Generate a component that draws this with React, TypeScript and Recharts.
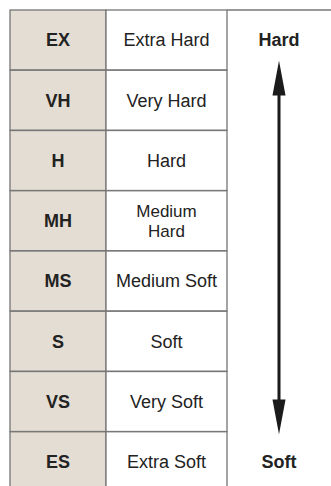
import { BarChart, Bar, XAxis, YAxis } from 'recharts'

// grade codes, top (hardest) to bottom (softest)
const codes = ['EX', 'VH', 'H', 'MH', 'MS', 'S', 'VS', 'ES']
const names = ['Extra Hard', 'Very Hard', 'Hard', 'Medium\nHard', 'Medium Soft', 'Soft', 'Very Soft', 'Extra Soft']
const scaleEnds = ['Hard', 'Soft']

const COL_CODE = 96
const COL_NAME = 121
const COL_SCALE = 104
const LINE = '#767676'
const BEIGE = '#e3ddd3'
const INK = '#222222'
const FONT = '"Liberation Sans", Arial, sans-serif'

const rows = codes.map((code, i) => ({
  code,
  name: names[i],
  codeCol: COL_CODE,
  nameCol: COL_NAME,
  scaleCol: COL_SCALE
}))

const CellText = ({ cx, cy, text, bold }: { cx: number; cy: number; text: string; bold?: boolean }) => {
  const lines = text.split('\n')
  // wrapped text gets a touch smaller so the two lines sit tight
  const size = lines.length > 1 ? 17 : 18
  const lh = 19.6
  return (
    <text
      x={cx}
      y={cy}
      textAnchor="middle"
      fontFamily={FONT}
      fontSize={size}
      fontWeight={bold ? 700 : 400}
      fill={INK}
    >
      {lines.map((l, i) => (
        <tspan key={i} x={cx} y={cy + (i - (lines.length - 1) / 2) * lh} dy="0.36em">
          {l}
        </tspan>
      ))}
    </text>
  )
}

const CodeCell = (props: any) => {
  const { x, y, width, height, payload } = props
  return (
    <g>
      <rect x={x} y={y} width={width} height={height} fill={BEIGE} stroke={LINE} strokeWidth={1.3} />
      <CellText cx={x + width / 2} cy={y + height / 2} text={payload.code} bold />
    </g>
  )
}

const NameCell = (props: any) => {
  const { x, y, width, height, payload } = props
  return (
    <g>
      <rect x={x} y={y} width={width} height={height} fill="#ffffff" stroke={LINE} strokeWidth={1.3} />
      <CellText cx={x + width / 2} cy={y + height / 2} text={payload.name} />
    </g>
  )
}

const ScaleCell = (props: any) => {
  const { x, y, width, height, index } = props
  const n = rows.length
  const cx = x + width / 2
  if (index === 0) {
    const top = y + height / 2 + 20.5
    const bottom = y + height * (n - 1) + height / 2 - 25.5
    const head = 35
    const hw = 6.5
    return (
      <g>
        <line x1={x} y1={y} x2={x + width} y2={y} stroke={LINE} strokeWidth={1.3} />
        <CellText cx={cx} cy={y + height / 2} text={scaleEnds[0]} bold />
        <rect x={cx - 1.5} y={top + head - 4} width={3} height={bottom - top - 2 * head + 8} fill="#1b1b1b" />
        <polygon points={`${cx},${top} ${cx + hw},${top + head} ${cx - hw},${top + head}`} fill="#1b1b1b" />
        <polygon points={`${cx},${bottom} ${cx + hw},${bottom - head} ${cx - hw},${bottom - head}`} fill="#1b1b1b" />
      </g>
    )
  }
  if (index === n - 1) {
    return <CellText cx={cx} cy={y + height / 2} text={scaleEnds[1]} bold />
  }
  return <g />
}

export default function App() {
  return (
    <div style={{ position: 'absolute', left: 0, top: 0, width: 331, height: 486, overflow: 'hidden', background: '#fff' }}>
      <BarChart
        width={331}
        height={500}
        data={rows}
        layout="vertical"
        margin={{ top: 10, right: 0, bottom: 8, left: 10 }}
        barCategoryGap={0}
      >
        <XAxis type="number" domain={[0, COL_CODE + COL_NAME + COL_SCALE]} hide />
        <YAxis type="category" dataKey="code" hide />
        <Bar dataKey="codeCol" stackId="t" shape={<CodeCell />} isAnimationActive={false} />
        <Bar dataKey="nameCol" stackId="t" shape={<NameCell />} isAnimationActive={false} />
        <Bar dataKey="scaleCol" stackId="t" shape={<ScaleCell />} isAnimationActive={false} />
      </BarChart>
    </div>
  )
}
